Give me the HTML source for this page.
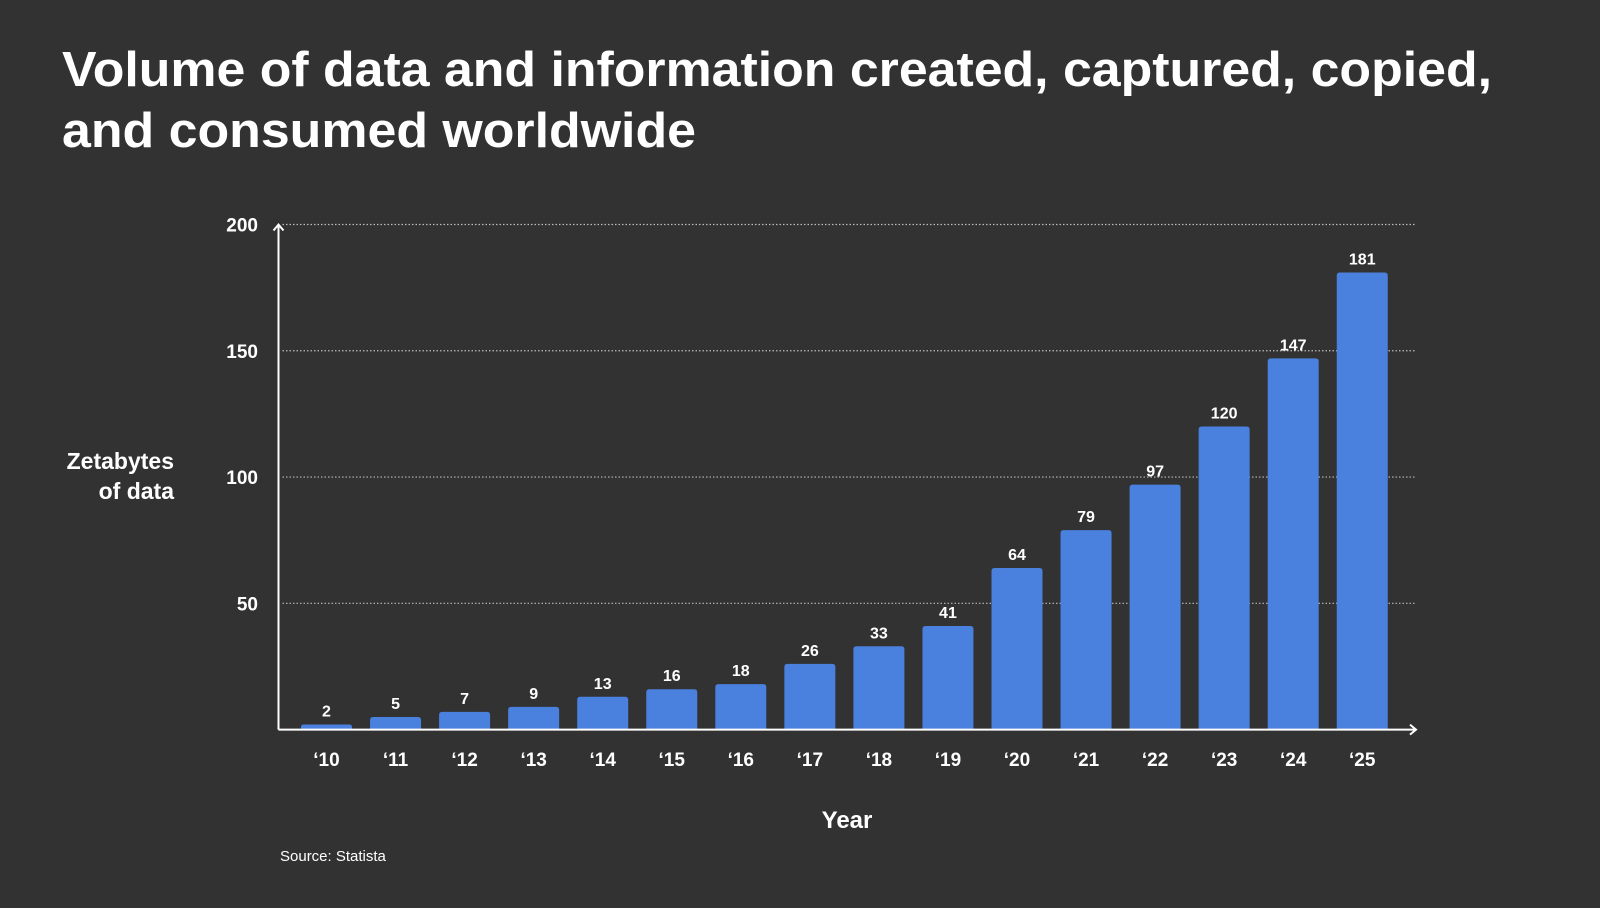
<!DOCTYPE html>
<html><head><meta charset="utf-8"><style>
html,body{margin:0;padding:0;background:#323232;}
svg{display:block;font-family:"Liberation Sans",sans-serif;}
</style></head><body>
<svg id="chart" width="1600" height="908" viewBox="0 0 1600 908" xmlns="http://www.w3.org/2000/svg">
<rect width="1600" height="908" fill="#323232"/>
<text x="62" y="86" fill="#fff" font-size="49" font-weight="bold" textLength="1430" lengthAdjust="spacingAndGlyphs">Volume of data and information created, captured, copied,</text>
<text x="62" y="147" fill="#fff" font-size="49" font-weight="bold" textLength="634" lengthAdjust="spacingAndGlyphs">and consumed worldwide</text>
<g id="grid"></g>
<g id="bars"></g>
<g id="axes"></g>
<text x="174" y="469" fill="#fff" font-size="23" font-weight="bold" text-anchor="end">Zetabytes</text>
<text x="174" y="499" fill="#fff" font-size="23" font-weight="bold" text-anchor="end">of data</text>
<text x="847" y="828" fill="#fff" font-size="24" font-weight="bold" text-anchor="middle">Year</text>
<text x="280" y="861" fill="#fff" font-size="15">Source: Statista</text>
</svg>
<script>
const categories = ["‘10","‘11","‘12","‘13","‘14","‘15","‘16","‘17","‘18","‘19","‘20","‘21","‘22","‘23","‘24","‘25"];
const values = [2,5,7,9,13,16,18,26,33,41,64,79,97,120,147,181];
const yTicks = [50,100,150,200];
const yTickLabels = ["50","100","150","200"];

const NS = "http://www.w3.org/2000/svg";
const x0 = 278.5, xEnd = 1416, yBase = 729.6, yTop = 224.5, yMax = 200;
const firstCenter = 326.5, step = 69.05, barW = 51;
function y(v){ return yBase - (v / yMax) * (yBase - yTop); }
function xc(i){ return firstCenter + i * step; }
function mk(tag, attrs, parent){ const e = document.createElementNS(NS, tag); for (const k in attrs) e.setAttribute(k, attrs[k]); parent.appendChild(e); return e; }

const grid = document.getElementById('grid');
yTicks.forEach((t, i) => {
  const l = mk('line', {x1: x0 + 4, x2: xEnd, y1: y(t), y2: y(t), stroke: '#bbb', 'stroke-width': 1.2, 'stroke-dasharray': '1.5 2'}, grid);
  
  
  const tx = mk('text', {x: 258, y: y(t) + 7, fill: '#fff', 'font-size': 19, 'font-weight': 'bold', 'text-anchor': 'end'}, grid);
  tx.textContent = yTickLabels[i];
  
  
});

const bars = document.getElementById('bars');
values.forEach((v, i) => {
  const top = y(v), h = yBase - top, r = Math.min(3, h / 2);
  const cx = xc(i), L = cx - barW / 2, R = cx + barW / 2;
  const p = mk('path', {d: `M${L},${yBase} L${L},${top + r} Q${L},${top} ${L + r},${top} L${R - r},${top} Q${R},${top} ${R},${top + r} L${R},${yBase} Z`, fill: '#4a80de'}, bars);
  
  
  const lb = mk('text', {x: cx, y: top - 8, fill: '#fff', 'font-size': 16, 'font-weight': 'bold', 'text-anchor': 'middle'}, bars);
  lb.textContent = v;
  
  
  const xl = mk('text', {x: cx, y: 766, fill: '#fff', 'font-size': 19, 'font-weight': 'bold', 'text-anchor': 'middle'}, bars);
  xl.textContent = categories[i];
  
  
});

const axes = document.getElementById('axes');
const ya = mk('path', {d: `M${x0},${yBase} L${x0},${yTop} M${x0 - 5},${yTop + 6} L${x0},${yTop} L${x0 + 5},${yTop + 6}`, stroke: '#fff', 'stroke-width': 2, fill: 'none'}, axes);


const xa = mk('path', {d: `M${x0},${yBase} L${xEnd},${yBase} M${xEnd - 6},${yBase - 5} L${xEnd},${yBase} L${xEnd - 6},${yBase + 5}`, stroke: '#fff', 'stroke-width': 2, fill: 'none'}, axes);


</script>
</body></html>
